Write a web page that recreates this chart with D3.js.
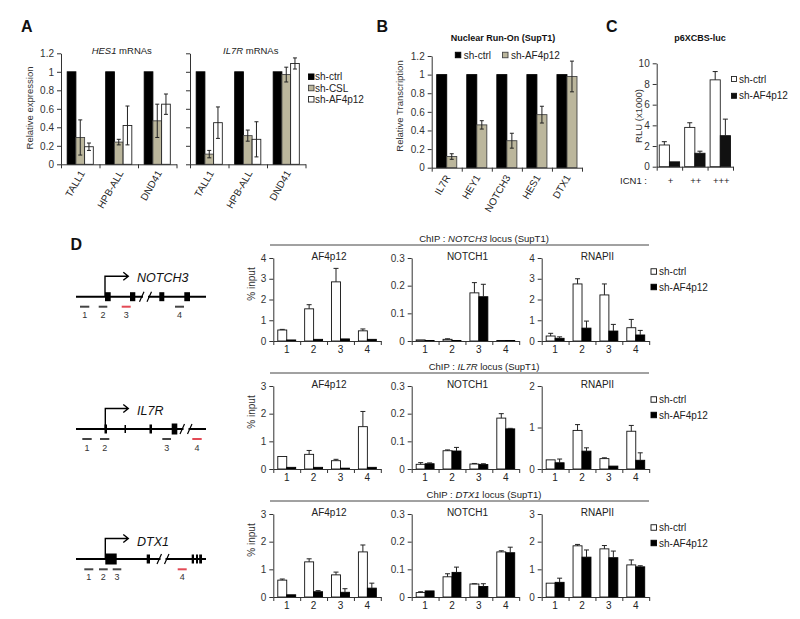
<!DOCTYPE html>
<html><head><meta charset="utf-8">
<script src="https://cdn.jsdelivr.net/npm/d3@7"></script>
<style>body{margin:0;background:#fff}svg{display:block}</style>
</head><body><svg id="c" width="800" height="619"></svg>
<script>
// ---------- Panel A data ----------
const aCellLines = ["TALL1","HPB-ALL","DND41"];
const aSeriesNames = ["sh-ctrl","sh-CSL","sh-AF4p12"];
const aTicks = [0,0.2,0.4,0.6,0.8,1,1.2];
const hes1Ctrl = [1,1,1];
const hes1Csl = [0.29,0.24,0.47];
const hes1CslErr = [0.19,0.03,0.18];
const hes1Af = [0.19,0.42,0.65];
const hes1AfErr = [0.04,0.21,0.11];
const il7rCtrl = [1,1,1];
const il7rCsl = [0.11,0.31,0.97];
const il7rCslErr = [0.04,0.06,0.08];
const il7rAf = [0.45,0.27,1.09];
const il7rAfErr = [0.17,0.19,0.06];
// ---------- Panel B data ----------
const bGenes = ["IL7R","HEY1","NOTCH3","HES1","DTX1"];
const bSeriesNames = ["sh-ctrl","sh-AF4p12"];
const bTicks = [0,0.2,0.4,0.6,0.8,1,1.2];
const bCtrl = [1,1,1,1,1];
const bAf = [0.12,0.46,0.29,0.57,0.98];
const bAfErr = [0.03,0.045,0.08,0.09,0.165];
// ---------- Panel C data ----------
const cDoses = ["+","++","+++"];
const cSeriesNames = ["sh-ctrl","sh-AF4p12"];
const cTicks = [0,2,4,6,8,10];
const cCtrl = [2.1,3.8,8.4];
const cCtrlErr = [0.32,0.45,0.8];
const cAf = [0.47,1.3,3.0];
const cAfErr = [0,0.2,1.6];
// ---------- Panel D data ----------
const dRegions = ["1","2","3","4"];
const dLoci = ["NOTCH3","IL7R","DTX1"];
const dAntibodies = ["AF4p12","NOTCH1","RNAPII"];
const dSeriesNames = ["sh-ctrl","sh-AF4p12"];
const dTicks4 = [0,1,2,3,4];
const dTicks3 = [0,1,2,3];
const dTicks2 = [0,1,2];
const dTicksN1 = [0,0.1,0.2,0.3];
// NOTCH3 locus
const n3Af4Ctrl = [0.53,1.55,2.85,0.49], n3Af4CtrlErr = [0.03,0.2,0.65,0.09];
const n3Af4Kd = [0.05,0.08,0.1,0.08], n3Af4KdErr = [0,0,0,0];
const n3N1Ctrl = [0.004,0.006,0.174,0.002], n3N1CtrlErr = [0,0.002,0.037,0];
const n3N1Kd = [0.002,0.002,0.16,0.002], n3N1KdErr = [0,0,0.045,0];
const n3PolCtrl = [0.24,2.75,2.22,0.64], n3PolCtrlErr = [0.13,0.25,0.53,0.4];
const n3PolKd = [0.13,0.62,0.48,0.29], n3PolKdErr = [0.07,0.34,0.32,0.22];
// IL7R locus
const ilAf4Ctrl = [0.45,0.53,0.3,1.53], ilAf4CtrlErr = [0,0.14,0.05,0.55];
const ilAf4Kd = [0.06,0.06,0.03,0.06], ilAf4KdErr = [0,0,0,0];
const ilN1Ctrl = [0.017,0.066,0.018,0.184], ilN1CtrlErr = [0.006,0.003,0.002,0.016];
const ilN1Kd = [0.019,0.065,0.016,0.145], ilN1KdErr = [0.003,0.013,0.003,0.002];
const ilPolCtrl = [0.22,0.93,0.25,0.91], ilPolCtrlErr = [0,0.14,0.02,0.14];
const ilPolKd = [0.15,0.43,0.07,0.21], ilPolKdErr = [0.09,0.08,0,0.18];
// DTX1 locus
const dxAf4Ctrl = [0.61,1.27,0.8,1.63], dxAf4CtrlErr = [0.04,0.11,0.1,0.25];
const dxAf4Kd = [0.08,0.19,0.17,0.32], dxAf4KdErr = [0,0.04,0.13,0.18];
const dxN1Ctrl = [0.016,0.073,0.047,0.163], dxN1CtrlErr = [0.003,0.011,0.001,0.004];
const dxN1Kd = [0.022,0.089,0.038,0.16], dxN1KdErr = [0,0.019,0.01,0.02];
const dxPolCtrl = [0.5,1.85,1.74,1.16], dxPolCtrlErr = [0,0.05,0.12,0.18];
const dxPolKd = [0.53,1.44,1.42,1.09], dxPolKdErr = [0.15,0.26,0.24,0.04];

// ---------- drawing ----------
const FONT = '"Liberation Sans", Arial, sans-serif';
const GRAY = "#bbb69c";
const TXT = "#222";
const svg = d3.select("#c").attr("font-family", FONT);

function barChart(g, o){
  const y = d3.scaleLinear().domain([0,o.max]).range([o.y0,o.yTop]);
  const x = d3.scaleBand().domain(o.cats).range([o.x0,o.x1]);
  const sub = d3.scaleBand().domain(d3.range(o.series.length)).range([0,x.bandwidth()]).paddingOuter(o.outer);
  const cap = o.cap || 2.5;
  o.series.forEach((s,si)=>{
    const bg = g.append("g");
    bg.selectAll("rect").data(s.vals).join("rect")
      .attr("x",(d,i)=>x(o.cats[i])+sub(si))
      .attr("width",sub.bandwidth())
      .attr("y",d=>y(d)).attr("height",d=>o.y0-y(d))
      .attr("fill",s.fill).attr("stroke",s.stroke).attr("stroke-width",0.9);
  });
  o.series.forEach((s,si)=>{
    if(!s.errs) return;
    const eb = s.vals.map((v,i)=>({v,e:s.errs[i],cx:x(o.cats[i])+sub(si)+sub.bandwidth()/2})).filter(d=>d.e>0);
    g.append("g").selectAll("path").data(eb).join("path")
      .attr("d",d=>{const t=y(d.v+d.e), b=o.errUp?y(d.v):y(Math.max(0,d.v-d.e));
        return `M${d.cx},${t}V${b}M${d.cx-cap},${t}H${d.cx+cap}`+(o.errUp?"":`M${d.cx-cap},${b}H${d.cx+cap}`);})
      .attr("stroke", o.errColor||"#222").attr("stroke-width",1).attr("fill","none");
  });
  const ya = d3.axisLeft(y).tickValues(o.ticks).tickSize(4).tickSizeOuter(0).tickPadding(3)
    .tickFormat(o.showY===false? ()=>"" : (o.fmt||(d=>d)));
  const yg = g.append("g").attr("transform",`translate(${o.x0},0)`).call(ya)
    .attr("font-family",FONT).attr("font-size",o.fs||10);
  yg.selectAll("text").attr("fill","#333");
  yg.selectAll("line,path").attr("stroke","#333");
  const xb = d3.scaleLinear().domain([0,o.cats.length]).range([o.x0,o.x1]);
  const xa = d3.axisBottom(xb).tickValues(d3.range(o.cats.length+1)).tickSize(4).tickSizeOuter(0).tickFormat(()=>"");
  const xg = g.append("g").attr("transform",`translate(0,${o.y0})`).call(xa);
  xg.selectAll("line,path").attr("stroke","#333");
  return {x,y,center:c=>x(c)+x.bandwidth()/2};
}

function legendItem(g, x, yc, size, fill, stroke, label, fs, gap){
  g.append("rect").attr("x",x).attr("y",yc-size/2).attr("width",size).attr("height",size)
    .attr("fill",fill).attr("stroke",stroke).attr("stroke-width",0.9);
  g.append("text").attr("x",x+size+gap).attr("y",yc).attr("dy","0.35em")
    .attr("font-size",fs).attr("fill",TXT).text(label);
}
function panelLetter(x,y,t){
  svg.append("text").attr("x",x).attr("y",y).attr("font-size",16).attr("font-weight","bold").attr("fill","#111").text(t);
}
function yLabel(x,y,t,fs){
  svg.append("text").attr("transform",`translate(${x},${y}) rotate(-90)`).attr("text-anchor","middle")
    .attr("dy","0.35em").attr("font-size",fs).attr("fill","#333").text(t);
}

// ===== Panel A =====
panelLetter(21,31.5,"A");
const aPanels = [
  {x0:61,x1:176.5,ctrl:hes1Ctrl,csl:hes1Csl,cslE:hes1CslErr,af:hes1Af,afE:hes1AfErr,gene:"HES1",showY:true},
  {x0:190,x1:305.5,ctrl:il7rCtrl,csl:il7rCsl,cslE:il7rCslErr,af:il7rAf,afE:il7rAfErr,gene:"IL7R",showY:false}
];
aPanels.forEach(p=>{
  const g = svg.append("g");
  const r = barChart(g,{x0:p.x0,x1:p.x1,y0:164.3,yTop:53.3,max:1.2,ticks:aTicks,cats:aCellLines,outer:0.71,
    showY:p.showY,fs:10,cap:2,
    series:[{vals:p.ctrl,fill:"#000",stroke:"#000"},
            {vals:p.csl,errs:p.cslE,fill:GRAY,stroke:"#444"},
            {vals:p.af,errs:p.afE,fill:"#fff",stroke:"#222"}]});
  g.append("g").selectAll("text").data(aCellLines).join("text")
    .attr("transform",c=>`translate(${r.center(c)+2},${164.3+7}) rotate(-60)`)
    .attr("text-anchor","end").attr("dy","0.35em").attr("font-size",10).attr("fill",TXT).text(c=>c);
  const t = g.append("text").attr("x",(p.x0+p.x1)/2+3).attr("y",53.5).attr("text-anchor","middle")
    .attr("font-size",9.5).attr("fill",TXT);
  t.append("tspan").attr("font-style","italic").text(p.gene);
  t.append("tspan").text(" mRNAs");
});
yLabel(30,108,"Relative expression",9.5);
{
  const lg = svg.append("g");
  const fills=[["#000","#000"],[GRAY,"#444"],["#fff","#222"]];
  aSeriesNames.forEach((n,i)=>legendItem(lg,308.5,76.7+i*11.3,5.5,fills[i][0],fills[i][1],n,10,1));
}

// ===== Panel B =====
panelLetter(376.5,31.5,"B");
svg.append("text").attr("x",503).attr("y",40.5).attr("text-anchor","middle").attr("font-size",9)
  .attr("font-weight","bold").attr("fill","#111").text("Nuclear Run-On (SupT1)");
{
  const g = svg.append("g");
  const r = barChart(g,{x0:431.7,x1:582,y0:167.7,yTop:56,max:1.2,ticks:bTicks,cats:bGenes,outer:0.5,fs:10,cap:2,
    series:[{vals:bCtrl,fill:"#000",stroke:"#000"},{vals:bAf,errs:bAfErr,fill:GRAY,stroke:"#444"}]});
  g.append("g").selectAll("text").data(bGenes).join("text")
    .attr("transform",c=>`translate(${r.center(c)+1},${167.7+8}) rotate(-60)`)
    .attr("text-anchor","end").attr("dy","0.35em").attr("font-size",10).attr("fill",TXT).text(c=>c);
  legendItem(g,455.3,55,5.5,"#000","#000",bSeriesNames[0],10,3);
  legendItem(g,502.5,55,5.5,GRAY,"#444",bSeriesNames[1],10,3);
}
yLabel(400,106,"Relative Transcription",9.5);

// ===== Panel C =====
panelLetter(606,31.5,"C");
svg.append("text").attr("x",700).attr("y",40.5).attr("text-anchor","middle").attr("font-size",9)
  .attr("font-weight","bold").attr("fill","#111").text("p6XCBS-luc");
{
  const g = svg.append("g");
  const r = barChart(g,{x0:656.7,x1:733,y0:166.7,yTop:63.3,max:10,ticks:cTicks,cats:cDoses,outer:0.25,fs:10,errUp:true,cap:2.5,
    series:[{vals:cCtrl,errs:cCtrlErr,fill:"#fff",stroke:"#222"},{vals:cAf,errs:cAfErr,fill:"#111",stroke:"#111"}]});
  g.append("g").selectAll("text").data(cDoses).join("text")
    .attr("x",c=>r.center(c)+1).attr("y",183.5).attr("text-anchor","middle").attr("font-size",9.5).attr("fill",TXT).text(c=>c);
  g.append("text").attr("x",647).attr("y",183.5).attr("text-anchor","end").attr("font-size",9.5).attr("fill",TXT).text("ICN1 :");
  legendItem(g,731.5,79,5,"#fff","#222",cSeriesNames[0],10,2.5);
  legendItem(g,731.5,95.8,5,"#111","#111",cSeriesNames[1],10,2.5);
}
yLabel(638.7,116,"RLU (x1000)",9.5);

// ===== Panel D =====
panelLetter(70.5,249.5,"D");
const chipRows = [
  {locus:"NOTCH3", y0:341, charts:[
    {max:4,ticks:dTicks4,ctrl:n3Af4Ctrl,ctrlE:n3Af4CtrlErr,kd:n3Af4Kd,kdE:n3Af4KdErr},
    {max:0.3,ticks:dTicksN1,ctrl:n3N1Ctrl,ctrlE:n3N1CtrlErr,kd:n3N1Kd,kdE:n3N1KdErr},
    {max:4,ticks:dTicks4,ctrl:n3PolCtrl,ctrlE:n3PolCtrlErr,kd:n3PolKd,kdE:n3PolKdErr}]},
  {locus:"IL7R", y0:469, charts:[
    {max:3,ticks:dTicks3,ctrl:ilAf4Ctrl,ctrlE:ilAf4CtrlErr,kd:ilAf4Kd,kdE:ilAf4KdErr},
    {max:0.3,ticks:dTicksN1,ctrl:ilN1Ctrl,ctrlE:ilN1CtrlErr,kd:ilN1Kd,kdE:ilN1KdErr},
    {max:2,ticks:dTicks2,ctrl:ilPolCtrl,ctrlE:ilPolCtrlErr,kd:ilPolKd,kdE:ilPolKdErr}]},
  {locus:"DTX1", y0:597, charts:[
    {max:3,ticks:dTicks3,ctrl:dxAf4Ctrl,ctrlE:dxAf4CtrlErr,kd:dxAf4Kd,kdE:dxAf4KdErr},
    {max:0.3,ticks:dTicksN1,ctrl:dxN1Ctrl,ctrlE:dxN1CtrlErr,kd:dxN1Kd,kdE:dxN1KdErr},
    {max:3,ticks:dTicks3,ctrl:dxPolCtrl,ctrlE:dxPolCtrlErr,kd:dxPolKd,kdE:dxPolKdErr}]}
];
const chartX0 = [273.3,411.7,541.7];
const chartW = 107.5;
chipRows.forEach(row=>{
  const g = svg.append("g");
  const y0=row.y0;
  g.append("line").attr("x1",270).attr("x2",649).attr("y1",y0-96).attr("y2",y0-96).attr("stroke","#444").attr("stroke-width",1);
  const ht = g.append("text").attr("x",484).attr("y",y0-99.5).attr("text-anchor","middle").attr("font-size",9.5).attr("fill",TXT);
  ht.append("tspan").text("ChIP : ");
  ht.append("tspan").attr("font-style","italic").text(row.locus);
  ht.append("tspan").text(" locus (SupT1)");
  row.charts.forEach((c,ci)=>{
    const x0 = chartX0[ci];
    const r = barChart(g,{x0,x1:x0+chartW,y0,yTop:y0-83,max:c.max,ticks:c.ticks,cats:dRegions,outer:0.5,fs:10,errUp:true,cap:2.5,
      series:[{vals:c.ctrl,errs:c.ctrlE,fill:"#fff",stroke:"#111"},{vals:c.kd,errs:c.kdE,fill:"#000",stroke:"#000"}]});
    g.append("g").selectAll("text").data(dRegions).join("text")
      .attr("x",d=>r.center(d)).attr("y",y0+12).attr("text-anchor","middle").attr("font-size",10).attr("fill",TXT).text(d=>d);
    g.append("text").attr("x",x0+chartW/2+2).attr("y",y0-81).attr("text-anchor","middle").attr("font-size",10).attr("fill",TXT).text(dAntibodies[ci]);
  });
  yLabel(251,y0-57,"% input",10);
  legendItem(g,651,y0-69.5,5.5,"#fff","#111",dSeriesNames[0],10,2.5);
  legendItem(g,651,y0-54,5.5,"#000","#000",dSeriesNames[1],10,2.5);
});

// ===== Gene diagrams =====
const RED = "#e34a55", PGRAY = "#444";
const geneDiagrams = [
  {name:"NOTCH3", lineY:296.7, tss:29, labelDy:-14.4,
   exons:[[29,34.7,9],[54,59.3,9],[83.3,88.3,9],[108.3,114,9]], breaks:[69.5],
   primers:[[4,13.3,"1",0],[22.7,31.3,"2",0],[45.7,54.7,"3",1],[99,108,"4",0]], pDy:10, lDy:21.6},
  {name:"IL7R", lineY:429, tss:29.3, labelDy:-14,
   exons:[[28.5,31,9],[48.5,50,8],[73.5,76,9],[95.7,101.3,11]], breaks:[110],
   primers:[[6.3,15.7,"1",0],[24,33.3,"2",0],[86.3,95,"3",0],[116.3,125.7,"4",1]], pDy:10, lDy:21.7},
  {name:"DTX1", lineY:559, tss:29.3, labelDy:-13.3,
   exons:[[29.3,40.7,11],[70.7,74,9],[115.7,118,9],[120,122,9],[123.2,126,9]], breaks:[87],
   primers:[[8.3,17.3,"1",0],[23,31.7,"2",0],[36.7,45.3,"3",0],[101.7,110.7,"4",1]], pDy:10.3, lDy:21}
];
const gx = d3.scaleLinear().domain([0,130]).range([76,206]);
geneDiagrams.forEach(d=>{
  const g = svg.append("g");
  const ly = d.lineY;
  g.append("line").attr("x1",gx(0)).attr("x2",gx(130)).attr("y1",ly).attr("y2",ly).attr("stroke","#000").attr("stroke-width",2);
  d.breaks.forEach(b=>{
    const cx=gx(b);
    g.append("rect").attr("x",cx-2.5).attr("y",ly-3).attr("width",5).attr("height",6).attr("fill","#fff");
    g.append("path").attr("d",`M${cx-6},${ly+5}L${cx-1.5},${ly-5}M${cx+1.5},${ly+5}L${cx+6},${ly-5}`)
      .attr("stroke","#000").attr("stroke-width",1.2).attr("fill","none");
  });
  g.selectAll("rect.ex").data(d.exons).join("rect").attr("class","ex")
    .attr("x",e=>gx(e[0])).attr("width",e=>gx(e[1])-gx(e[0])).attr("y",e=>ly-e[2]/2).attr("height",e=>e[2]).attr("fill","#000");
  const tx = gx(d.tss), ay = ly-20.5, ax2 = gx(52.3);
  g.append("path").attr("d",`M${tx},${ly}V${ay}H${ax2}M${ax2-5},${ay-4}L${ax2},${ay}L${ax2-5},${ay+4}`)
    .attr("stroke","#000").attr("stroke-width",1.4).attr("fill","none");
  g.append("text").attr("x",gx(61)).attr("y",ly+d.labelDy).attr("font-size",12.5).attr("font-style","italic").attr("fill","#111").text(d.name);
  g.selectAll("line.pr").data(d.primers).join("line").attr("class","pr")
    .attr("x1",p=>gx(p[0])).attr("x2",p=>gx(p[1])).attr("y1",ly+d.pDy).attr("y2",ly+d.pDy)
    .attr("stroke",p=>p[3]?RED:PGRAY).attr("stroke-width",2);
  g.selectAll("text.pl").data(d.primers).join("text").attr("class","pl")
    .attr("x",p=>(gx(p[0])+gx(p[1]))/2).attr("y",ly+d.lDy).attr("text-anchor","middle").attr("font-size",9).attr("fill","#333").text(p=>p[2]);
});
</script></body></html>
